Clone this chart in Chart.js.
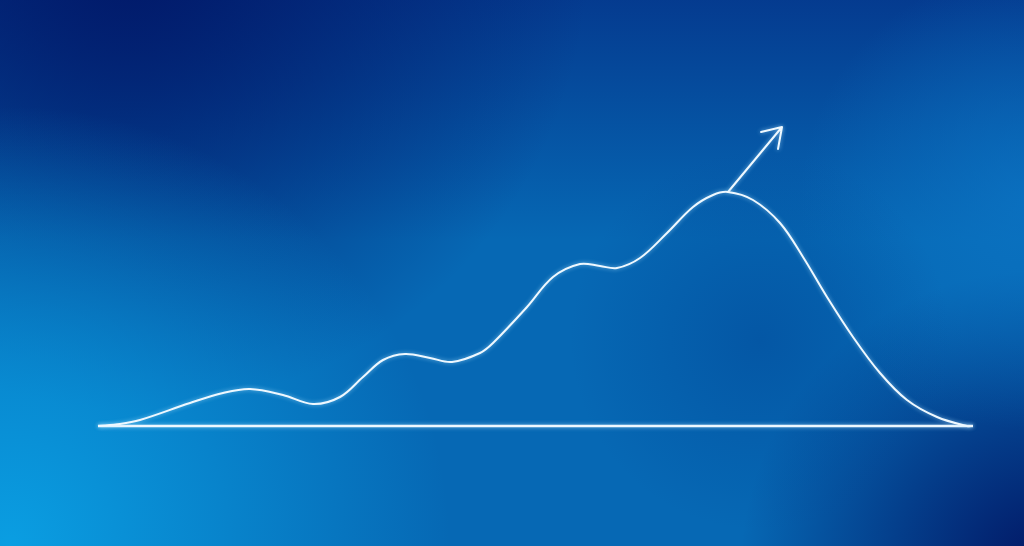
<!DOCTYPE html>
<html>
<head>
<meta charset="utf-8">
<style>
  html, body { margin: 0; padding: 0; width: 1024px; height: 546px; overflow: hidden; background: #0668b4; }
  #chart { display: block; }
</style>
<script src="https://cdn.jsdelivr.net/npm/chart.js@4/dist/chart.umd.min.js"></script>
</head>
<body>
<canvas id="chart" width="1024" height="546"></canvas>
<script>
// growth curve, height above baseline (px units of the drawing)
const curveX = [98, 120, 140, 190, 223, 250, 283, 313, 340, 363, 383, 405, 430, 452, 480, 493, 527, 553, 580, 600, 617, 640, 667, 693, 713, 728, 753, 780, 803, 827, 853, 880, 907, 937, 967, 973];
const curveY = [0, 2, 6, 23, 33, 37, 31, 22, 29, 49, 66, 72, 68, 64, 73, 83, 119, 149, 162, 160, 158, 168, 193, 219, 231, 234, 226, 203, 169, 129, 89, 53, 26, 9, 0, 0];

// baseline
const baseX = [98, 973];
const baseY = [0, 0];

// arrow shaft + head (null breaks the line)
const arrowX = [728, 782, null, 761, 782, 778];
const arrowY = [234, 299, null, 294, 299, 277];

const toPoints = (xs, ys) => xs.map((x, i) => (x === null ? { x: null, y: null } : { x, y: ys[i] }));

const backgroundPlugin = {
  id: "bg",
  beforeDraw(chart) {
    const { ctx, width, height } = chart;
    ctx.save();
    ctx.fillStyle = "#0668b4";
    ctx.fillRect(0, 0, width, height);

    const blob = (x, y, r, color) => {
      const g = ctx.createRadialGradient(x, y, 0, x, y, r);
      g.addColorStop(0, color);
      g.addColorStop(1, color.replace(/[\d.]+\)$/, "0)"));
      ctx.fillStyle = g;
      ctx.fillRect(0, 0, width, height);
    };
    // darker band along the top
    const top = ctx.createLinearGradient(0, 0, 0, 240);
    top.addColorStop(0, "rgba(4,40,128,0.7)");
    top.addColorStop(1, "rgba(4,40,128,0)");
    ctx.fillStyle = top;
    ctx.fillRect(0, 0, width, height);

    blob(130, -50, 460, "rgba(1,24,104,1)");
    blob(10, 546, 440, "rgba(10,158,226,1)");
    blob(1040, 570, 300, "rgba(2,22,100,1)");
    blob(1030, 200, 230, "rgba(12,118,198,0.7)");
    blob(760, 340, 190, "rgba(2,70,150,0.5)");
    ctx.restore();
  },
  beforeDatasetsDraw(chart) {
    chart.ctx.save();
    chart.ctx.shadowColor = "rgba(170,225,255,0.7)";
    chart.ctx.shadowBlur = 4;
  },
  afterDatasetsDraw(chart) {
    chart.ctx.restore();
  },
};

new Chart(document.getElementById("chart"), {
  type: "line",
  data: {
    datasets: [
      {
        data: toPoints(curveX, curveY),
        borderColor: "#eef8ff",
        borderWidth: 2,
        tension: 0.35,
        pointRadius: 0,
        fill: false,
      },
      {
        data: toPoints(baseX, baseY),
        borderColor: "#eef8ff",
        borderWidth: 2.5,
        pointRadius: 0,
        fill: false,
      },
      {
        data: toPoints(arrowX, arrowY),
        borderColor: "#eef8ff",
        borderWidth: 2,
        borderCapStyle: "round",
        borderJoinStyle: "round",
        tension: 0,
        spanGaps: false,
        pointRadius: 0,
        fill: false,
      },
    ],
  },
  options: {
    responsive: false,
    animation: false,
    devicePixelRatio: 1,
    layout: { padding: 0 },
    plugins: { legend: { display: false }, tooltip: { enabled: false } },
    scales: {
      x: { type: "linear", min: 0, max: 1024, display: false },
      y: { type: "linear", min: -120, max: 426, display: false },
    },
  },
  plugins: [backgroundPlugin],
});
</script>
</body>
</html>
